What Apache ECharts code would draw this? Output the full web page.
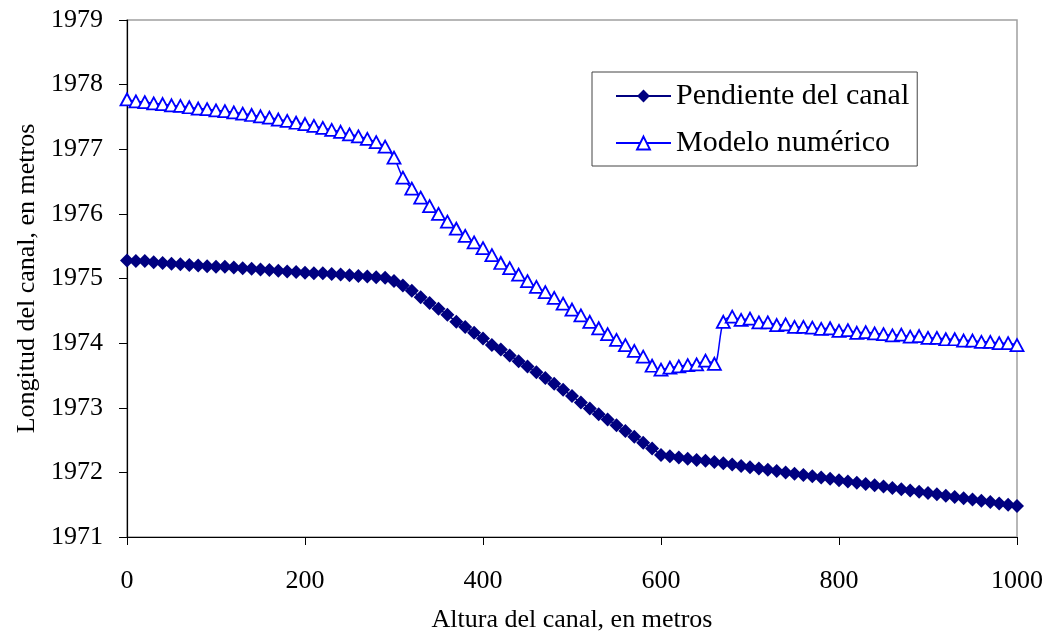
<!DOCTYPE html>
<html>
  <head>
    <meta charset="utf-8" />
    <title>Longitud del canal</title>
    <script src="https://cdn.jsdelivr.net/npm/echarts@6/dist/echarts.min.js"></script>
  </head>
  <body style="margin: 0">
    <div id="main" style="width: 1052px; height: 638px"></div>

    <script>
      // altura del canal (m)
      var altura = [
        0, 10, 20, 30, 40, 50, 60, 70, 80, 90,
        100, 110, 120, 130, 140, 150, 160, 170, 180, 190,
        200, 210, 220, 230, 240, 250, 260, 270, 280, 290,
        300, 310, 320, 330, 340, 350, 360, 370, 380, 390,
        400, 410, 420, 430, 440, 450, 460, 470, 480, 490,
        500, 510, 520, 530, 540, 550, 560, 570, 580, 590,
        600, 610, 620, 630, 640, 650, 660, 670, 680, 690,
        700, 710, 720, 730, 740, 750, 760, 770, 780, 790,
        800, 810, 820, 830, 840, 850, 860, 870, 880, 890,
        900, 910, 920, 930, 940, 950, 960, 970, 980, 990,
        1000
      ];

      var pendiente = [
        1975.28, 1975.27, 1975.27, 1975.25, 1975.24, 1975.23, 1975.22, 1975.21, 1975.2, 1975.19,
        1975.18, 1975.18, 1975.17, 1975.16, 1975.15, 1975.14, 1975.13, 1975.12, 1975.11, 1975.1,
        1975.09, 1975.08, 1975.08, 1975.07, 1975.06, 1975.05, 1975.04, 1975.03, 1975.02, 1975.01,
        1974.96, 1974.89, 1974.81, 1974.71, 1974.62, 1974.53, 1974.44, 1974.33, 1974.25, 1974.16,
        1974.07, 1973.97, 1973.9, 1973.81, 1973.72, 1973.64, 1973.55, 1973.46, 1973.37, 1973.28,
        1973.18, 1973.08, 1972.99, 1972.9, 1972.82, 1972.73, 1972.64, 1972.55, 1972.46, 1972.37,
        1972.27, 1972.25, 1972.23, 1972.21, 1972.19, 1972.18, 1972.16, 1972.14, 1972.12, 1972.1,
        1972.08, 1972.06, 1972.04, 1972.02, 1972.0, 1971.98, 1971.96, 1971.94, 1971.92, 1971.9,
        1971.88, 1971.86, 1971.84, 1971.82, 1971.8, 1971.78, 1971.76, 1971.74, 1971.72, 1971.7,
        1971.68, 1971.66, 1971.64, 1971.62, 1971.6, 1971.58, 1971.56, 1971.54, 1971.52, 1971.5,
        1971.48
      ];

      var modelo = [
        1977.77, 1977.74, 1977.73, 1977.71, 1977.7, 1977.68, 1977.67, 1977.65, 1977.63, 1977.62,
        1977.6, 1977.59, 1977.57, 1977.55, 1977.53, 1977.51, 1977.49, 1977.46, 1977.44, 1977.41,
        1977.39, 1977.36, 1977.33, 1977.3, 1977.27, 1977.23, 1977.2, 1977.16, 1977.11, 1977.04,
        1976.87, 1976.56, 1976.39, 1976.25, 1976.12, 1976.0, 1975.88, 1975.77, 1975.66, 1975.56,
        1975.47, 1975.36, 1975.24, 1975.16, 1975.06, 1974.96, 1974.87, 1974.79, 1974.7, 1974.61,
        1974.52, 1974.43, 1974.33, 1974.23, 1974.14, 1974.05, 1973.97, 1973.88, 1973.79, 1973.65,
        1973.59, 1973.62, 1973.64, 1973.66, 1973.67, 1973.73, 1973.68, 1974.33, 1974.41, 1974.36,
        1974.38, 1974.32, 1974.32, 1974.28, 1974.29, 1974.25, 1974.25, 1974.24, 1974.22, 1974.23,
        1974.19, 1974.2, 1974.16, 1974.17, 1974.15, 1974.14, 1974.12, 1974.13, 1974.1, 1974.11,
        1974.08, 1974.08, 1974.06, 1974.06, 1974.04, 1974.04, 1974.02, 1974.02, 1974.0, 1974.0,
        1973.97
      ];

      var nombres = ["Pendiente del canal", "Modelo numérico"];

      var font = "Liberation Serif";

      function pares(ys) {
        return altura.map(function (x, i) {
          return [x, ys[i]];
        });
      }

      // sin separador de miles
      function sinComa(v) {
        return String(v);
      }

      var myChart = echarts.init(document.getElementById("main"));

      var option = {
        animation: false,
        backgroundColor: "#fff",
        grid: {
          left: 127,
          right: 35,
          top: 20,
          bottom: 100,
          show: true,
          borderColor: "#a0a0a0",
          borderWidth: 1.5,
        },
        legend: {
          orient: "vertical",
          left: 592,
          top: 72,
          padding: [9, 8, 8, 23],
          itemGap: 17,
          itemWidth: 55,
          itemHeight: 16,
          borderColor: "#444",
          borderWidth: 1,
          backgroundColor: "#fff",
          textStyle: { fontFamily: font, fontSize: 30, color: "#000" },
          data: nombres,
        },
        xAxis: {
          type: "value",
          min: 0,
          max: 1000,
          interval: 200,
          name: "Altura del canal, en metros",
          nameLocation: "middle",
          nameGap: 70,
          nameTextStyle: { fontFamily: font, fontSize: 26, color: "#000" },
          axisLine: { lineStyle: { color: "#000", width: 1.2 } },
          axisTick: { length: 8, lineStyle: { color: "#000" } },
          axisLabel: { fontFamily: font, fontSize: 26, color: "#000", margin: 31, formatter: sinComa },
          splitLine: { show: false },
        },
        yAxis: {
          type: "value",
          min: 1971,
          max: 1979,
          interval: 1,
          name: "Longitud del canal, en metros",
          nameLocation: "middle",
          nameGap: 87,
          nameTextStyle: { fontFamily: font, fontSize: 26, color: "#000" },
          axisLine: { show: true, lineStyle: { color: "#000", width: 1.2 } },
          axisTick: { show: true, length: 8, lineStyle: { color: "#000" } },
          axisLabel: { fontFamily: font, fontSize: 26, color: "#000", margin: 24, formatter: sinComa },
          splitLine: { show: false },
        },
        series: [
          {
            name: nombres[0],
            type: "line",
            data: pares(pendiente),
            symbol: "diamond",
            symbolSize: [14, 14],
            lineStyle: { color: "#000080", width: 1.5 },
            itemStyle: { color: "#000080" },
          },
          {
            name: nombres[1],
            type: "line",
            data: pares(modelo),
            smooth: 0.3,
            symbol: "triangle",
            symbolSize: [13, 12],
            lineStyle: { color: "#0000ff", width: 1.5 },
            itemStyle: { color: "#fff", borderColor: "#0000ff", borderWidth: 1.8 },
          },
        ],
      };

      myChart.setOption(option);
    </script>
  </body>
</html>
